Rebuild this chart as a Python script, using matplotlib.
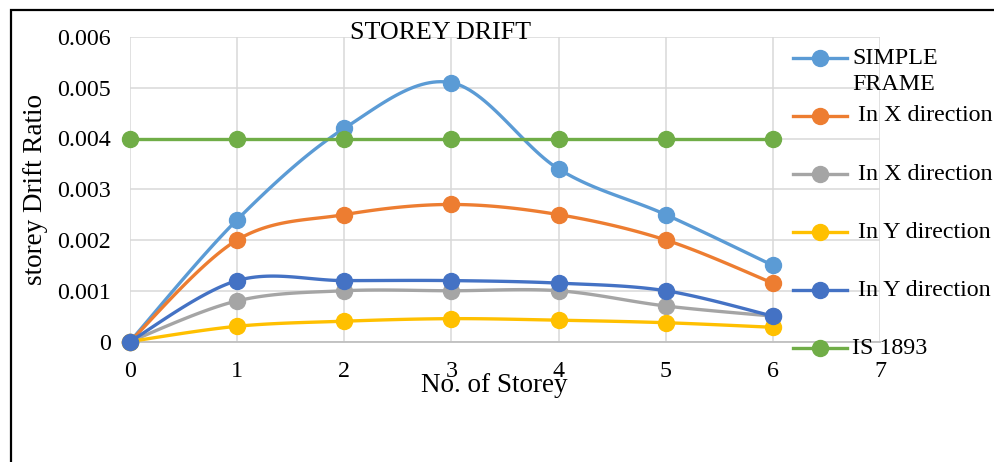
import numpy as np
import matplotlib
matplotlib.use("Agg")
import matplotlib.pyplot as plt
from matplotlib.lines import Line2D
from matplotlib.patches import Rectangle

plt.rcParams["font.family"] = ["Liberation Serif", "DejaVu Serif"]
plt.rcParams["path.simplify"] = False

storeys = [0, 1, 2, 3, 4, 5, 6]
simple_frame = [0, 0.0024, 0.0042, 0.0051, 0.0034, 0.0025, 0.0015]
x_dir_a = [0, 0.0020, 0.0025, 0.0027, 0.0025, 0.0020, 0.00115]
x_dir_b = [0, 0.0008, 0.0010, 0.0010, 0.0010, 0.0007, 0.0005]
y_dir_a = [0, 0.0003, 0.0004, 0.00045, 0.00042, 0.00037, 0.00028]
y_dir_b = [0, 0.0012, 0.0012, 0.0012, 0.00115, 0.0010, 0.0005]
is_1893 = [0.004, 0.004, 0.004, 0.004, 0.004, 0.004, 0.004]

series = [
    (simple_frame, "#5B9BD5", "SIMPLE\nFRAME"),
    (x_dir_a, "#ED7D31", " In X direction"),
    (x_dir_b, "#A5A5A5", " In X direction"),
    (y_dir_a, "#FFC000", " In Y direction"),
    (y_dir_b, "#4472C4", " In Y direction"),
    (is_1893, "#70AD47", "IS 1893"),
]

W, H = 994, 462


def smooth(xs, ys, n=30):
    # Excel-like smoothed line (Catmull-Rom as cubic Bezier)
    x = np.asarray(xs, float); y = np.asarray(ys, float)
    px = np.concatenate([[x[0]], x, [x[-1]]])
    py = np.concatenate([[y[0]], y, [y[-1]]])
    ox, oy = [x[0]], [y[0]]
    t = np.linspace(0, 1, n)[1:]
    for i in range(1, len(px) - 2):
        p0 = np.array([px[i], py[i]]); p3 = np.array([px[i + 1], py[i + 1]])
        c1 = p0 + (np.array([px[i + 1], py[i + 1]]) - np.array([px[i - 1], py[i - 1]])) / 6
        c2 = p3 - (np.array([px[i + 2], py[i + 2]]) - np.array([px[i], py[i]])) / 6
        b = ((1 - t) ** 3)[:, None] * p0 + (3 * (1 - t) ** 2 * t)[:, None] * c1 \
            + (3 * (1 - t) * t ** 2)[:, None] * c2 + (t ** 3)[:, None] * p3
        ox.extend(b[:, 0]); oy.extend(b[:, 1])
    return np.round(ox, 10), np.round(oy, 10)


fig = plt.figure(figsize=(W / 100, H / 100), dpi=100)
fig.patch.set_facecolor("white")

# chart border
fig.add_artist(Rectangle((11 / W, -0.1), 1.2, 1.1 - 10 / H, transform=fig.transFigure,
                         fill=False, edgecolor="black", linewidth=1.6))

ax = fig.add_axes([130 / W, 1 - 341.5 / H, 750 / W, 304.5 / H])
ax.set_xlim(0, 7)
ax.set_ylim(0, 0.006)
ax.set_xticks(range(8))
ax.set_yticks([0, 0.001, 0.002, 0.003, 0.004, 0.005, 0.006])
ax.set_yticklabels(["0", "0.001", "0.002", "0.003", "0.004", "0.005", "0.006"])
ax.grid(True, color="#D9D9D9", linewidth=1.1)
ax.set_axisbelow(True)
for s in ["top", "right", "left"]:
    ax.spines[s].set_visible(False)
ax.spines["bottom"].set_color("#BFBFBF")
ax.spines["bottom"].set_linewidth(1.3)
ax.tick_params(length=0, labelsize=17.3, pad=14)
ax.tick_params(axis="x", pad=14)

for k, (vals, color, label) in enumerate(series):
    sx, sy = smooth(storeys, vals)
    ax.plot(sx, sy, color=color, linewidth=2.4, zorder=3 + k, clip_on=False,
            solid_capstyle="round", solid_joinstyle="round")
    ax.plot(storeys, vals, "o", color=color, markersize=11.5, zorder=3 + k, clip_on=False)

fig.text(440 / W, 1 - 33 / H, "STOREY DRIFT", ha="center", va="center", fontsize=18.7)
fig.text(494 / W, 1 - 392 / H, "No. of Storey", ha="center", va="baseline", fontsize=19.5)
fig.text(36 / W, 1 - 189 / H, "storey Drift Ratio", ha="center", va="center",
         rotation=90, fontsize=19.5)

# legend on the right
for k, (vals, color, label) in enumerate(series):
    yy = 1 - (58 + 58 * k) / H
    fig.add_artist(Line2D([793 / W, 847 / W], [yy, yy], transform=fig.transFigure,
                          color=color, linewidth=2.4))
    fig.add_artist(Line2D([820 / W], [yy], transform=fig.transFigure, marker="o",
                          color=color, markersize=11.5))
    lines = label.split("\n")
    for j, ln in enumerate(lines):
        fig.text(852 / W, yy - j * 26 / H, ln, ha="left", va="center", fontsize=17.3)

fig.savefig("out.png", dpi=100, facecolor="white")
